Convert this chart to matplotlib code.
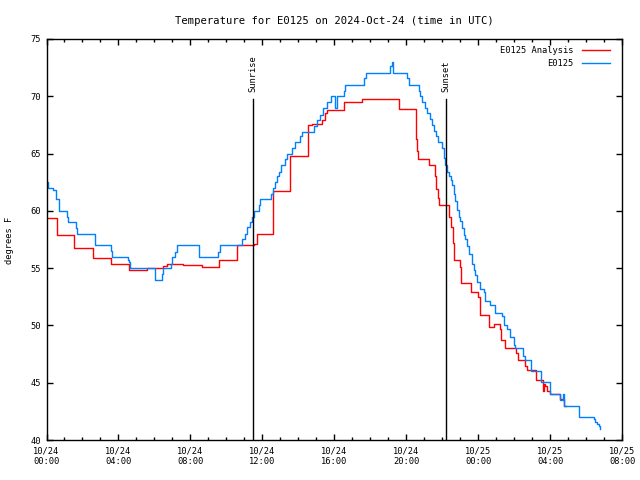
import matplotlib
matplotlib.use('Agg')
import matplotlib.pyplot as plt
from matplotlib.ticker import MultipleLocator

plt.rcParams['font.family'] = ['DejaVu Sans Mono']
plt.rcParams['font.size'] = 6.3

# hours since 2024-10-24 00:00 UTC, degrees F
obs_hours = [0.0, 0.08, 0.38, 0.51, 0.53, 0.70, 0.71, 1.16, 1.20, 1.64, 1.71, 2.68, 2.72,
             3.57, 3.64, 4.55, 4.59, 4.65, 6.04, 6.41, 6.47, 6.93, 6.97, 7.15, 7.25, 8.50,
             9.53, 9.66, 10.86, 11.01, 11.17, 11.31, 11.42, 11.51, 11.79, 11.88, 12.49,
             12.62, 12.71, 12.81, 12.95, 13.05, 13.27, 13.37, 13.65, 13.83, 14.11, 14.20,
             14.85, 15.04, 15.22, 15.35, 15.59, 15.83, 16.05, 16.15, 16.55, 16.61, 17.63,
             17.78, 19.12, 19.19, 19.24, 20.04, 20.13, 20.69, 20.78, 20.89, 21.06, 21.17,
             21.34, 21.45, 21.56, 21.67, 21.78, 21.99, 22.08, 22.18, 22.27, 22.36, 22.49,
             22.55, 22.64, 22.73, 22.83, 22.92, 23.01, 23.11, 23.19, 23.29, 23.38, 23.47,
             23.66, 23.75, 23.84, 23.94, 24.12, 24.31, 24.40, 24.68, 24.96, 25.33, 25.42,
             25.61, 25.79, 26.01, 26.07, 26.50, 26.59, 26.94, 27.52, 27.98, 28.58, 28.73,
             28.80, 29.59, 30.43, 30.52, 30.62, 30.71, 30.80]
obs_temp = [62.5, 62.0, 61.8, 61.4, 61.0, 60.5, 60.0, 59.5, 59.0, 58.5, 58.0, 57.5, 57.0,
            56.5, 56.0, 55.7, 55.5, 55.0, 54.0, 54.5, 55.0, 55.4, 56.0, 56.4, 57.0, 56.0,
            56.4, 57.0, 57.5, 58.0, 58.6, 59.0, 59.5, 60.0, 60.5, 61.0, 61.5,
            62.0, 62.5, 63.0, 63.4, 64.0, 64.5, 65.0, 65.5, 66.0, 66.5, 66.9,
            67.4, 67.9, 68.4, 69.0, 69.5, 70.0, 69.0, 70.0, 70.5, 71.0, 71.6,
            72.0, 72.6, 73.0, 72.0, 71.6, 71.0, 70.5, 70.0, 69.5, 69.0, 68.5,
            68.0, 67.5, 67.0, 66.5, 66.0, 65.5, 64.6, 64.0, 63.4, 63.0, 62.7,
            62.3, 61.5, 60.9, 60.1, 59.5, 59.1, 58.5, 57.9, 57.5, 56.9, 56.2,
            55.4, 54.8, 54.4, 53.8, 53.2, 52.9, 52.1, 51.8, 51.1, 50.8, 50.0,
            49.7, 49.0, 48.3, 48.0, 47.3, 47.0, 46.0, 45.1, 44.0, 43.5, 44.0,
            43.0, 42.0, 41.8, 41.6, 41.4, 41.2, 41.0]

ana_hours = [0.0, 0.57, 0.60, 1.55, 2.57, 3.59, 4.61, 5.61, 6.50, 6.69, 7.61, 8.64, 9.60,
             10.58, 11.55, 11.70, 12.57, 13.55, 14.54, 14.77, 15.31, 15.50, 15.59, 16.56,
             17.57, 19.58, 20.56, 20.62, 20.67, 21.25, 21.62, 21.67, 21.75, 21.80, 22.40,
             22.49, 22.60, 22.64, 22.97, 23.07, 23.61, 24.00, 24.12, 24.59, 24.90, 25.24,
             25.29, 25.51, 26.13, 26.24, 26.63, 26.74, 27.24, 27.58, 27.65, 27.74, 27.81,
             27.98, 28.58, 28.76, 28.91]
ana_temp = [59.4, 59.0, 57.9, 56.8, 55.9, 55.4, 54.8, 55.0, 55.2, 55.4, 55.3, 55.1, 55.7,
            57.0, 57.1, 58.0, 61.7, 64.8, 67.5, 67.6, 67.9, 68.5, 68.8, 69.5,
            69.8, 68.9, 66.3, 65.2, 64.5, 64.0, 63.0, 61.9, 61.1, 60.5, 59.5,
            58.6, 57.2, 55.7, 55.1, 53.7, 52.9, 52.5, 50.9, 49.9, 50.1, 49.7,
            48.7, 48.0, 47.6, 47.0, 46.5, 46.1, 45.2, 44.3, 44.9, 44.7, 44.3,
            44.0, 43.6, 43.0, 43.0]

sunrise = 11.49
sunset = 22.23
tick_hours = [0, 4, 8, 12, 16, 20, 24, 28, 32]
tick_labels = ['10/24\n00:00', '10/24\n04:00', '10/24\n08:00', '10/24\n12:00',
               '10/24\n16:00', '10/24\n20:00', '10/25\n00:00', '10/25\n04:00',
               '10/25\n08:00']

fig = plt.figure(figsize=(6.4, 4.8), dpi=100)
ax = fig.add_axes([46.5/640, 40/480, (622-46.5)/640, (440-39)/480])

ax.plot(ana_hours, ana_temp, color='#ff0000', lw=1.0, drawstyle='steps-post')
ax.plot(obs_hours, obs_temp, color='#0080ff', lw=1.0, drawstyle='steps-post')

for h, name in [(sunrise, 'Sunrise'), (sunset, 'Sunset')]:
    ax.plot([h, h], [40, 69.8], color='black', lw=1.0)
    ax.text(h, 70.4, name, rotation=90, ha='center', va='bottom')

ax.set_xlim(0, 32)
ax.set_ylim(40, 75)
ax.set_xticks(tick_hours)
ax.set_xticklabels(tick_labels)
ax.xaxis.set_minor_locator(MultipleLocator(1))
ax.yaxis.set_major_locator(MultipleLocator(5))
ax.tick_params(which='both', direction='in', top=True, right=True, width=1)
ax.tick_params(which='major', length=4)
ax.tick_params(which='minor', length=2)
ax.tick_params(axis='x', pad=5)
ax.tick_params(axis='y', pad=4)
for s in ax.spines.values():
    s.set_linewidth(1.0)

fig.text(10/640, 0.5, 'degrees F', rotation=90, ha='center', va='center')
ax.set_title('Temperature for E0125 on 2024-Oct-24 (time in UTC)', pad=11)

# gnuplot-style key, top right
ax.text(0.915, 0.972, 'E0125 Analysis', transform=ax.transAxes, ha='right', va='center')
ax.plot([0.93, 0.98], [0.972, 0.972], color='#ff0000', lw=1.0, transform=ax.transAxes)
ax.text(0.915, 0.94, 'E0125', transform=ax.transAxes, ha='right', va='center')
ax.plot([0.93, 0.98], [0.94, 0.94], color='#0080ff', lw=1.0, transform=ax.transAxes)

fig.savefig('out.png', dpi=100)
